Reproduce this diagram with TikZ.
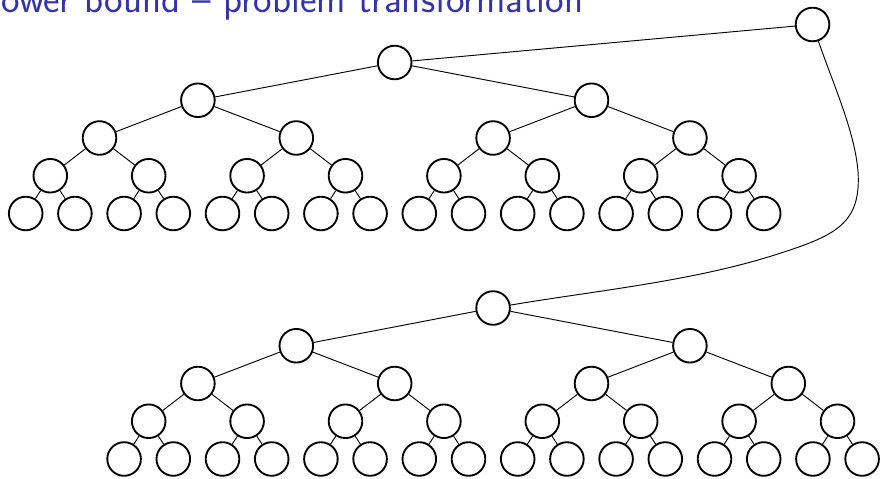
\documentclass[tikz,border=0pt]{standalone}
\usepackage{fontspec}
\definecolor{titleblue}{rgb}{0.2,0.2,0.7}
\tikzset{
  nd/.style={circle,draw=black,line width=1.4pt,minimum size=25.2pt,inner sep=0pt,fill=white},
  edge/.style={draw=black,line width=0.7pt},
  ttl/.style={text=titleblue,inner sep=0pt,font=\sffamily\fontsize{29.5pt}{32pt}\selectfont}
}
\begin{document}
\begin{tikzpicture}[x=0.75pt,y=-0.75pt]
\useasboundingbox (0,0) rectangle (880,478);
\node[ttl,anchor=base east] (title) at (583.5,12.5) {ower bound – problem transformation};
% trees
\foreach \T/\dx/\dy in {t/0/0, b/98.4/245.5} {
  \foreach \L in {0,...,4} {
    \pgfmathtruncatemacro\NN{2^\L-1}
    \foreach \j in {0,...,\NN} {
      \pgfmathsetmacro\xx{25.7+49.2*((\j+0.5)*2^(4-\L)-0.5)+\dx}
      \pgfmathsetmacro\yy{62.5+37.75*\L+\dy}
      \node[nd] (\T\L-\j) at (\xx,\yy) {};
    }
  }
}
\foreach \T in {t,b} {
  \foreach \L in {0,...,3} {
    \pgfmathtruncatemacro\NN{2^\L-1}
    \pgfmathtruncatemacro\MM{\L+1}
    \foreach \j in {0,...,\NN} {
      \pgfmathtruncatemacro\ca{2*\j}
      \pgfmathtruncatemacro\cb{2*\j+1}
      \draw[edge] (\T\L-\j) -- (\T\MM-\ca);
      \draw[edge] (\T\L-\j) -- (\T\MM-\cb);
    }
  }
}
\node[nd] (E) at (812.5,24.5) {};
\draw[edge] (t0-0) -- (E);
\coordinate (m1) at (858.3,180);
\coordinate (m2) at (780,253.3);
\draw[edge] (E) .. controls (834.8,88.2) and (858.3,140) .. (m1)
  .. controls (858.3,225) and (832.3,236.3) .. (m2)
  .. controls (694.5,281.2) and (598.7,290.2) .. (b0-0);
\end{tikzpicture}
\end{document}
